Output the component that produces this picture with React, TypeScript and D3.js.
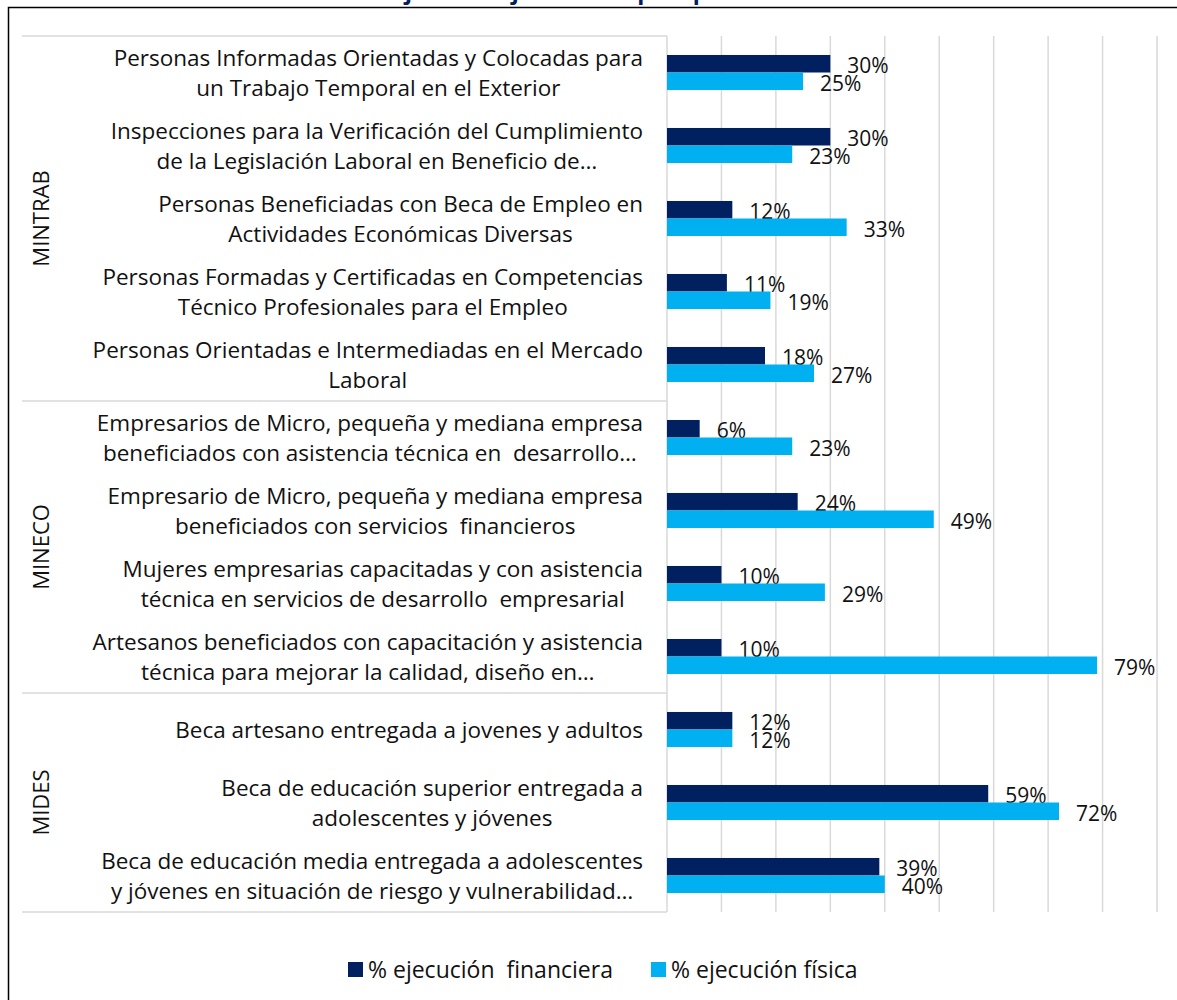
import React, { useRef, useEffect } from "react";
import * as d3 from "d3";

const groups = ["MINTRAB", "MINECO", "MIDES"];
const groupSizes = [5, 4, 3];

const categories = [
  ["Personas Informadas Orientadas y Colocadas para", "un Trabajo Temporal en el Exterior"],
  ["Inspecciones para la Verificación del Cumplimiento", "de la Legislación Laboral en Beneficio de…"],
  ["Personas Beneficiadas con Beca de Empleo en", "Actividades Económicas Diversas"],
  ["Personas Formadas y Certificadas en Competencias", "Técnico Profesionales para el Empleo"],
  ["Personas Orientadas e Intermediadas en el Mercado", "Laboral"],
  ["Empresarios de Micro, pequeña y mediana empresa", "beneficiados con asistencia técnica en  desarrollo…"],
  ["Empresario de Micro, pequeña y mediana empresa", "beneficiados con servicios  financieros"],
  ["Mujeres empresarias capacitadas y con asistencia", "técnica en servicios de desarrollo  empresarial"],
  ["Artesanos beneficiados con capacitación y asistencia", "técnica para mejorar la calidad, diseño en…"],
  ["Beca artesano entregada a jovenes y adultos"],
  ["Beca de educación superior entregada a", "adolescentes y jóvenes"],
  ["Beca de educación media entregada a adolescentes", "y jóvenes en situación de riesgo y vulnerabilidad…"],
];

const financiera = [30, 30, 12, 11, 18, 6, 24, 10, 10, 12, 59, 39];
const fisica = [25, 23, 33, 19, 27, 23, 49, 29, 79, 12, 72, 40];

const seriesNames = ["% ejecución  financiera", "% ejecución física"];
const colors = ["#002060", "#00B0F0"];
const xTicks = [0, 10, 20, 30, 40, 50, 60, 70, 80, 90];

const FONT = "'Open Sans', 'Noto Sans', sans-serif";

export default function App() {
  const svgRef = useRef<SVGSVGElement>(null);

  useEffect(() => {
    const svg = d3.select(svgRef.current);
    svg.selectAll("*").remove(); // limpiar antes de dibujar

    const width = 1177;
    const height = 1000;
    const left = 667;
    const right = 1157;
    const top = 36;
    const bottom = 912;
    const labelRight = 643;

    svg.attr("width", width).attr("height", height);

    // titulo (cortado arriba)
    svg
      .append("text")
      .attr("x", 140)
      .attr("y", -1)
      .attr("textLength", 835)
      .attr("lengthAdjust", "spacing")
      .style("font-family", FONT)
      .style("font-size", "23px")
      .style("font-weight", "bold")
      .style("fill", "#002060")
      .text("Gráfica 3. Porcentajes de ejecución por productos asociados");

    // marco
    svg
      .append("path")
      .attr("d", `M8.5,${height} L8.5,7.5 L${width},7.5`)
      .attr("fill", "none")
      .attr("stroke", "#000")
      .attr("stroke-width", 1.5);

    const x = d3.scaleLinear().domain([0, 90]).range([left, right]);
    const idx = categories.map((_, i) => i);
    const y = d3
      .scaleBand<number>()
      .domain(idx)
      .range([top, bottom])
      .paddingInner(0.52)
      .paddingOuter(0.26);
    const ySeries = d3
      .scaleBand<number>()
      .domain([0, 1])
      .range([0, y.bandwidth()]);
    const step = y.step();

    // lineas de la cuadricula
    svg
      .append("g")
      .selectAll("line")
      .data(xTicks.slice(1))
      .join("line")
      .attr("x1", d => x(d))
      .attr("x2", d => x(d))
      .attr("y1", top)
      .attr("y2", bottom)
      .attr("stroke", "#d9d9d9")
      .attr("stroke-width", 1.5);

    // eje de categorias
    svg
      .append("line")
      .attr("x1", left)
      .attr("x2", left)
      .attr("y1", top)
      .attr("y2", bottom)
      .attr("stroke", "#d9d9d9")
      .attr("stroke-width", 1.5);

    // separadores de grupos
    const bounds = [0];
    groupSizes.forEach((n, i) => bounds.push(bounds[i] + n));
    svg
      .append("g")
      .selectAll("line")
      .data(bounds)
      .join("line")
      .attr("x1", 22)
      .attr("x2", left)
      .attr("y1", d => top + d * step)
      .attr("y2", d => top + d * step)
      .attr("stroke", "#d9d9d9")
      .attr("stroke-width", 1.5);

    // etiquetas de grupos
    svg
      .append("g")
      .selectAll("text")
      .data(groups)
      .join("text")
      .attr("transform", (d, i) => {
        const cy = top + ((bounds[i] + bounds[i + 1]) / 2) * step;
        return `translate(40,${cy}) rotate(-90)`;
      })
      .attr("text-anchor", "middle")
      .attr("dominant-baseline", "central")
      .style("font-family", FONT)
      .style("font-size", "22px")
      .style("fill", "#111")
      .text(d => d);

    // etiquetas de categorias
    const catG = svg.append("g");
    categories.forEach((lines, i) => {
      const cy = (y(i) as number) + y.bandwidth() / 2;
      const g = catG.append("g");
      const texts = g
        .selectAll("text")
        .data(lines)
        .join("text")
        .attr("y", (d, j) => cy + (j - (lines.length - 1) / 2) * 30)
        .attr("dominant-baseline", "central")
        .attr("text-anchor", "middle")
        .style("font-family", FONT)
        .style("font-size", "22.5px")
        .style("fill", "#111")
        .style("white-space", "pre")
        .text(d => d);
      let maxW = 0;
      texts.each(function () {
        maxW = Math.max(maxW, (this as SVGTextElement).getComputedTextLength());
      });
      texts.attr("x", labelRight - maxW / 2);
    });

    // barras
    const seriesData = [financiera, fisica];
    seriesData.forEach((vals, s) => {
      const g = svg.append("g");
      g.selectAll("rect")
        .data(vals)
        .join("rect")
        .attr("x", x(0))
        .attr("y", (d, i) => (y(i) as number) + (ySeries(s) as number))
        .attr("width", d => x(d) - x(0))
        .attr("height", ySeries.bandwidth())
        .attr("fill", colors[s]);

      g.selectAll("text")
        .data(vals)
        .join("text")
        .attr("x", d => x(d) + 17)
        .attr("y", (d, i) => (y(i) as number) + (ySeries(s) as number) + ySeries.bandwidth() / 2 + 1.5)
        .attr("dominant-baseline", "central")
        .style("font-family", FONT)
        .style("font-size", "21px")
        .style("fill", "#111")
        .text(d => `${d}%`);
    });

    // leyenda
    const legend = svg.append("g");
    const legendX = [348, 651];
    seriesNames.forEach((name, s) => {
      legend
        .append("rect")
        .attr("x", legendX[s])
        .attr("y", 962)
        .attr("width", 15)
        .attr("height", 15)
        .attr("fill", colors[s]);
      legend
        .append("text")
        .attr("x", legendX[s] + 20)
        .attr("y", 969)
        .attr("dominant-baseline", "central")
        .style("font-family", FONT)
        .style("font-size", "23px")
        .style("fill", "#111")
        .style("white-space", "pre")
        .text(name);
    });
  }, []);

  return (
    <div style={{ position: "absolute", left: 0, top: 0, background: "#fff" }}>
      <svg ref={svgRef} style={{ display: "block" }}></svg>
    </div>
  );
}
